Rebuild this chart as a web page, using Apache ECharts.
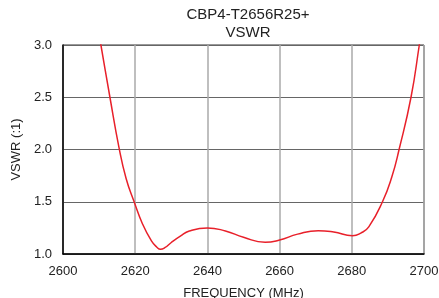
<!DOCTYPE html>
<html>
<head>
<meta charset="utf-8">
<script src="https://cdn.jsdelivr.net/npm/echarts@6/dist/echarts.min.js"></script>
<style>
  html, body { margin: 0; padding: 0; background: #fff; }
  #chart { width: 439px; height: 298px; }
</style>
</head>
<body>
<div id="chart"></div>
<script>
// frequency (MHz) and VSWR
var freq = [2610.0, 2610.5, 2613.0, 2615.5, 2617.5, 2619.7, 2622, 2624.5, 2626, 2627, 2628.2,
  2630, 2632.5, 2635, 2640, 2645, 2650, 2656, 2660, 2665, 2670.7, 2675,
  2680.2, 2682.5, 2684.7, 2688.5, 2691.1, 2693.1, 2696.4, 2698.7, 2699.1];
var vswr = [3.1, 3.0, 2.5, 2.02, 1.72, 1.5, 1.29, 1.125, 1.065, 1.045, 1.06,
  1.11, 1.17, 1.22, 1.25, 1.22, 1.16, 1.112, 1.134, 1.19, 1.223, 1.21,
  1.175, 1.2, 1.26, 1.5, 1.74, 2.0, 2.5, 3.0, 3.1];

var chart = echarts.init(document.getElementById('chart'), null, { renderer: 'canvas' });
var font = 'Liberation Sans, Arial, sans-serif';

var option = {
  animation: false,
  title: {
    text: 'CBP4-T2656R25+\nVSWR',
    left: 243,
    textAlign: 'center',
    top: 1,
    textStyle: { fontFamily: font, fontSize: 15, fontWeight: 'normal', color: '#222', lineHeight: 18 }
  },
  grid: {
    left: 63, right: 15, top: 45, bottom: 44,
    outerBoundsMode: 'none',
    show: true, borderColor: '#333', borderWidth: 1
  },
  xAxis: {
    type: 'value',
    min: 2600, max: 2700, interval: 20,
    name: 'FREQUENCY (MHz)',
    nameLocation: 'middle',
    nameGap: 33,
    nameTextStyle: { fontFamily: font, fontSize: 13, color: '#222' },
    axisLine: { lineStyle: { color: '#000', width: 1.5 } },
    axisTick: { show: false },
    axisLabel: {
      fontFamily: font, fontSize: 13, color: '#222', margin: 11,
      formatter: function (v) { return String(v); }
    },
    splitLine: { lineStyle: { color: '#aaa', width: 1.5 } }
  },
  yAxis: {
    type: 'value',
    min: 1.0, max: 3.0, interval: 0.5,
    name: 'VSWR (:1)',
    nameLocation: 'middle',
    nameGap: 35,
    nameTextStyle: { fontFamily: font, fontSize: 13, color: '#222' },
    axisLine: { show: true, lineStyle: { color: '#000', width: 1.5 } },
    axisTick: { show: false },
    axisLabel: {
      fontFamily: font, fontSize: 13, color: '#222', margin: 11,
      formatter: function (v) { return v.toFixed(1); }
    },
    splitLine: { lineStyle: { color: '#666', width: 1 } }
  },
  series: [{
    type: 'line',
    data: freq.map(function (f, i) { return [f, vswr[i]]; }),
    smooth: 0.5,
    showSymbol: false,
    clip: true,
    lineStyle: { color: '#e8202a', width: 1.5 }
  }]
};
chart.setOption(option);
</script>
</body>
</html>
